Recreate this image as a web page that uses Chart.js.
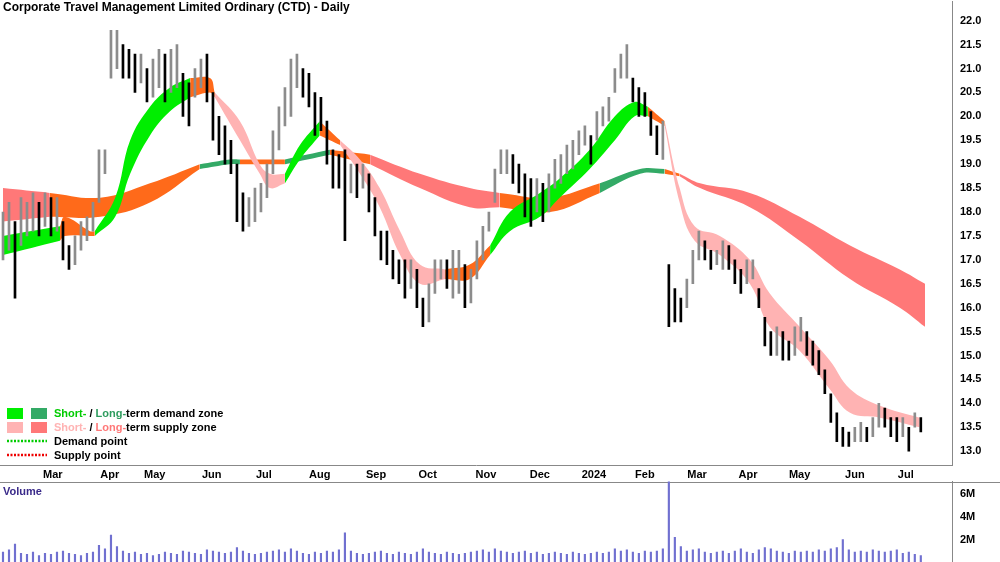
<!DOCTYPE html>
<html><head><meta charset="utf-8">
<script src="https://cdn.jsdelivr.net/npm/chart.js@4.4.1/dist/chart.umd.min.js"></script>
<style>
body{margin:0;background:#fff;width:1000px;height:562px;overflow:hidden;position:relative;font-family:Arial,"Liberation Sans",sans-serif}
#pw{position:absolute;left:0;top:-8px;width:1000px;height:490px}
#vw{position:absolute;left:0;top:472px;width:1000px;height:100px}
#sep{position:absolute;left:0;top:482px;width:1000px;height:0;border-top:1px solid #888}
</style></head><body>
<div id="pw"><canvas id="price"></canvas></div>
<div id="sep"></div>
<div id="vw"><canvas id="vol"></canvas></div>
<script>
// Price bars (one every ~2 trading days)
var lows = [17.0,17.2,16.2,17.3,17.5,17.6,17.5,17.7,17.5,17.6,17.0,16.8,16.9,17.2,17.4,17.6,18.2,18.8,20.8,21.0,
 20.8,20.8,20.5,20.7,20.3,20.4,20.6,20.3,20.5,20.6,20.0,19.8,20.4,20.6,20.3,19.5,19.2,19.0,18.8,17.8,
 17.6,17.7,17.8,18.0,18.3,18.8,19.3,19.8,20.0,20.6,20.4,20.2,19.6,19.7,19.0,18.5,18.5,17.4,18.4,18.3,
 18.5,18.0,17.5,17.0,16.9,16.6,16.5,16.2,16.4,16.0,15.6,15.7,16.3,16.6,16.4,16.2,16.3,16.0,16.1,16.6,
 17.0,17.6,18.2,18.8,18.8,18.6,18.4,17.9,17.7,18.0,17.8,18.0,18.5,18.6,18.8,18.9,19.2,19.4,19.0,19.5,
 19.8,19.9,20.5,20.8,20.8,20.3,20.0,20.0,19.6,19.2,19.1,15.6,15.7,15.7,16.0,16.5,17.0,17.0,16.8,16.9,
 16.8,16.8,16.5,16.3,16.5,16.6,16.0,15.2,15.0,15.0,14.9,14.9,15.0,15.3,15.0,14.8,14.6,14.2,13.6,13.2,
 13.1,13.1,13.2,13.2,13.2,13.3,13.5,13.5,13.3,13.2,13.3,13.0,13.5,13.4];
var highs = [18.0,18.2,17.8,18.3,18.2,18.4,18.2,18.4,18.3,18.3,17.8,17.3,17.5,17.8,17.9,18.2,19.3,19.3,21.8,21.8,
 21.5,21.4,21.3,21.3,21.0,21.2,21.4,21.3,21.4,21.5,20.9,20.7,21.0,21.2,21.3,20.5,20.0,19.8,19.5,19.0,
 18.4,18.3,18.5,18.6,19.0,19.7,20.2,20.6,21.2,21.3,21.0,20.9,20.5,20.4,19.9,19.3,19.2,19.3,19.0,19.0,
 19.0,18.8,18.3,17.6,17.6,17.2,17.0,17.0,17.0,16.8,16.2,16.5,17.0,17.0,17.0,17.2,17.2,16.9,16.8,17.4,
 17.7,18.0,18.9,19.3,19.3,19.2,19.0,18.8,18.7,18.7,18.6,18.8,19.1,19.2,19.4,19.5,19.7,19.8,19.6,20.1,
 20.2,20.4,21.0,21.3,21.5,20.8,20.6,20.5,20.1,19.8,19.9,16.9,16.4,16.2,16.6,17.2,17.6,17.4,17.2,17.2,
 17.4,17.3,17.0,16.8,17.0,17.0,16.4,15.8,15.5,15.6,15.5,15.3,15.6,15.8,15.5,15.3,15.1,14.7,14.2,13.8,
 13.5,13.4,13.5,13.6,13.5,13.7,14.0,13.9,13.7,13.7,13.7,13.5,13.8,13.7];
var volumes = [0.9,1.1,1.6,0.8,0.7,0.9,0.6,0.8,0.7,0.9,1.0,0.8,0.7,0.6,0.8,0.9,1.5,1.2,2.4,1.4,
 1.0,0.8,0.9,0.7,0.8,0.6,0.7,0.9,0.8,0.7,1.0,0.9,0.8,0.7,1.1,1.0,0.9,0.8,0.9,1.3,
 1.0,0.8,0.7,0.8,0.9,1.0,1.1,0.9,1.2,1.0,0.8,0.7,0.9,0.8,1.0,0.9,1.1,2.6,1.0,0.8,
 0.7,0.8,0.9,1.0,0.8,0.7,0.9,0.8,0.7,0.9,1.2,0.9,0.8,0.7,0.9,0.8,0.7,0.8,0.9,1.0,
 1.1,0.9,1.2,1.0,0.9,0.8,0.9,1.0,0.8,0.9,0.7,0.8,0.9,0.8,0.7,0.9,0.8,0.7,0.8,0.9,
 0.8,0.9,1.2,1.0,1.1,0.9,0.8,1.0,0.9,1.0,1.2,8.0,2.2,1.4,1.0,1.1,1.2,0.9,0.8,0.9,
 1.0,0.8,1.0,1.2,0.9,0.8,1.1,1.3,1.2,1.0,0.9,0.8,1.0,0.9,1.0,0.9,1.1,1.0,1.2,1.3,
 2.0,1.1,0.9,1.0,0.9,1.1,1.0,0.9,1.0,1.1,0.8,0.9,0.7,0.6];

// Short-term zone: position (bar), top, bottom, colour code of following segment
var shortX   = [0,9.5,10.3,14.5,15.3,18.7,21.2,24.5,27.8,31.2,34.5,35.3,39.5,42.8,44.5,47,49.5,52.8,56.2,59.5,62.8,66.2,69.5,73.7,77.8,81.2,84.5,89.5,92.8,97.8,102,105.3,107.5,110.3,112.8,115.3,119.5,124.5,127.8,132.8,137.8,141.2,146.2,152.8];
var shortTop = [17.5,17.7,17.9,17.6,17.6,18.3,19.5,20.2,20.6,20.8,20.8,20.5,19.9,19.0,18.8,18.8,19.4,19.9,19.5,19.1,18.5,17.6,16.9,16.8,16.9,17.3,18.0,18.4,18.7,19.3,20.0,20.3,20.2,19.9,18.5,17.7,17.5,17.0,16.3,15.6,14.9,14.3,13.95,13.7];
var shortBot = [17.1,17.4,17.5,17.5,17.5,17.9,18.8,19.6,20.1,20.4,20.5,20.4,19.5,18.8,18.5,18.6,19.1,19.6,19.4,18.8,18.1,17.1,16.5,16.6,16.6,17.1,17.6,17.9,18.3,18.9,19.5,20.0,20.0,19.8,18.2,17.4,17.1,16.5,15.6,15.1,14.3,13.8,13.7,13.5];
var shortCode= ['G','O','O','O','G','G','G','G','G','O','O','r','r','r','r','G','G','O','r','r','r','r','r','O','O','G','G','G','G','G','G','G','O','r','r','r','r','r','r','r','r','r','r','r'];

// Long-term zone
var longX   = [0,7.8,16.2,24.5,32.8,37.8,39.5,47,54.5,61.2,69.5,77.8,82.8,91.2,99.5,106.2,110.3,112.8,116.2,124.5,132.8,141.2,149.5,153.7];
var longTop = [18.5,18.4,18.3,18.6,19.0,19.1,19.1,19.1,19.3,19.2,18.8,18.5,18.4,18.3,18.6,18.9,18.9,18.8,18.6,18.4,17.9,17.3,16.8,16.5];
var longBot = [17.8,17.9,17.9,18.2,18.9,19.0,19.0,19.0,19.2,19.0,18.5,18.1,18.1,18.0,18.4,18.8,18.8,18.75,18.5,18.1,17.4,16.6,16.0,15.6];
var longCode= ['R','O','O','O','g','g','O','g','O','R','R','R','O','O','g','g','O','R','R','R','R','R','R','R'];

var monthPos = [8.3,17.8,25.3,34.8,43.5,52.8,62.2,70.8,80.5,89.5,98.5,107,115.7,124.2,132.8,142,150.5];
var monthLabels = ['Mar','Apr','May','Jun','Jul','Aug','Sep','Oct','Nov','Dec','2024','Feb','Mar','Apr','May','Jun','Jul'];
var priceTicks = [13.0,13.5,14.0,14.5,15.0,15.5,16.0,16.5,17.0,17.5,18.0,18.5,19.0,19.5,20.0,20.5,21.0,21.5,22.0];
var volTicks = [2, 4, 6];

var colours = {G:'#00ee00', g:'#33aa66', r:'#ffb3b3', R:'#ff7878', O:'#ff6a1a'};

function zoneSets(xs, tops, bots, codes) {
    var sets = [];
    var start = 0;
    for (var i = 1; i <= xs.length; i++) {
        if (i === xs.length || codes[i] !== codes[start]) {
            var end = Math.min(i, xs.length - 1);
            var top = [], bot = [];
            for (var k = start; k <= end; k++) {
                top.push({x: xs[k], y: tops[k]});
                bot.push({x: xs[k], y: bots[k]});
            }
            var c = colours[codes[start]];
            sets.push({type:'line', data: bot, borderWidth:0, pointRadius:0, tension:0.4, fill:false, order:5});
            sets.push({type:'line', data: top, borderWidth:0, pointRadius:0, tension:0.4, fill:'-1', backgroundColor:c, order:5});
            start = i;
        }
    }
    return sets;
}

var barData = [], barCols = [], volData = [];
lows.forEach(function (lo, i) {
    barData.push({x: i, y: [lo, highs[i]]});
    var mid = (lo + highs[i]) / 2;
    var prev = i > 0 ? (lows[i-1] + highs[i-1]) / 2 : mid;
    barCols.push(mid >= prev ? '#8c8c8c' : '#000000');
    volData.push({x: i, y: volumes[i]});
});

var xMin = -0.5, xMax = 158.2;
var tickFont = {family:'Arial', size:11, weight:'bold'};

var overlay = {
    id: 'overlay',
    afterDraw: function (chart) {
        var ctx = chart.ctx;
        ctx.save();
        ctx.font = 'bold 12px Arial, "Liberation Sans"';
        ctx.fillStyle = '#000';
        ctx.textBaseline = 'top';
        ctx.fillText('Corporate Travel Management Limited Ordinary (CTD) - Daily', 3, 10);
        var rows = [
            {y: 416, boxes: ['#00ee00', '#33aa66'], parts: [['Short-', '#00cc00'], [' / ', '#000'], ['Long-', '#2e9c5e'], ['term demand zone', '#000']]},
            {y: 430, boxes: ['#ffb3b3', '#ff7878'], parts: [['Short-', '#ffb3b3'], [' / ', '#000'], ['Long-', '#ff7878'], ['term supply zone', '#000']]}
        ];
        ctx.font = 'bold 11px Arial, "Liberation Sans"';
        rows.forEach(function (r) {
            ctx.fillStyle = r.boxes[0]; ctx.fillRect(7, r.y, 16, 11);
            ctx.fillStyle = r.boxes[1]; ctx.fillRect(31, r.y, 16, 11);
            var x = 54;
            r.parts.forEach(function (p) {
                ctx.fillStyle = p[1];
                ctx.fillText(p[0], x, r.y);
                x += ctx.measureText(p[0]).width;
            });
        });
        ctx.lineWidth = 2.5;
        ctx.setLineDash([2, 1.5]);
        ctx.strokeStyle = '#00cc00';
        ctx.beginPath(); ctx.moveTo(7, 449); ctx.lineTo(47, 449); ctx.stroke();
        ctx.strokeStyle = '#ee0000';
        ctx.beginPath(); ctx.moveTo(7, 463); ctx.lineTo(47, 463); ctx.stroke();
        ctx.setLineDash([]);
        ctx.fillStyle = '#000';
        ctx.fillText('Demand point', 54, 444);
        ctx.fillText('Supply point', 54, 458);
        ctx.restore();
    }
};

var price = new Chart(document.getElementById('price'), {
    type: 'bar',
    data: {
        datasets: zoneSets(shortX, shortTop, shortBot, shortCode)
            .concat(zoneSets(longX, longTop, longBot, longCode))
            .concat([{type:'bar', data: barData, backgroundColor: barCols, barThickness: 2, grouped:false, order:1}])
    },
    options: {
        responsive: true, maintainAspectRatio: false, animation: false,
        layout: {padding: 0},
        plugins: {legend: {display:false}, tooltip: {enabled:false}},
        scales: {
            x: {
                type: 'linear', min: xMin, max: xMax, offset: false,
                grid: {display:false, drawTicks:true, tickLength:3},
                border: {color:'#888'},
                afterFit: function (s) { s.height = 17; },
                afterBuildTicks: function (s) { s.ticks = monthPos.map(function (v) { return {value: v}; }); },
                ticks: {
                    autoSkip:false, maxRotation:0, padding:0, font: tickFont, color:'#000',
                    callback: function (v, i) { return monthLabels[i]; }
                }
            },
            y: {
                position: 'right', min: 12.71, max: 22.4,
                grid: {display:false, drawTicks:true, tickLength:5},
                border: {color:'#888'},
                afterFit: function (s) { s.width = 48; },
                afterBuildTicks: function (s) { s.ticks = priceTicks.map(function (v) { return {value: v}; }); },
                ticks: {
                    padding: 3, font: tickFont, color:'#000',
                    callback: function (v) { return v.toFixed(1); }
                }
            }
        }
    },
    plugins: [overlay]
});

var volLabel = {
    id: 'volLabel',
    afterDraw: function (chart) {
        var ctx = chart.ctx;
        ctx.save();
        ctx.font = 'bold 11px Arial, "Liberation Sans"';
        ctx.fillStyle = '#3a2a8a';
        ctx.textBaseline = 'top';
        ctx.fillText('Volume', 3, 14);
        ctx.restore();
    }
};

var vol = new Chart(document.getElementById('vol'), {
    type: 'bar',
    data: {datasets: [{data: volData, backgroundColor:'#7070d0', barThickness:1.5}]},
    options: {
        responsive: true, maintainAspectRatio: false, animation: false,
        layout: {padding: 0},
        plugins: {legend: {display:false}, tooltip: {enabled:false}},
        scales: {
            x: {
                type:'linear', min: xMin, max: xMax, offset:false,
                grid: {display:false}, border: {display:false},
                ticks: {display:false},
                afterFit: function (s) { s.height = 0; }
            },
            y: {
                position:'right', min: 0, max: 7.1,
                grid: {display:false, tickLength:5},
                border: {color:'#888'},
                afterFit: function (s) { s.width = 48; },
                afterBuildTicks: function (s) { s.ticks = volTicks.map(function (v) { return {value: v}; }); },
                ticks: {
                    padding: 3, font: tickFont, color:'#000',
                    callback: function (v) { return v + 'M'; }
                }
            }
        }
    },
    plugins: [volLabel]
});
</script>
</body></html>
